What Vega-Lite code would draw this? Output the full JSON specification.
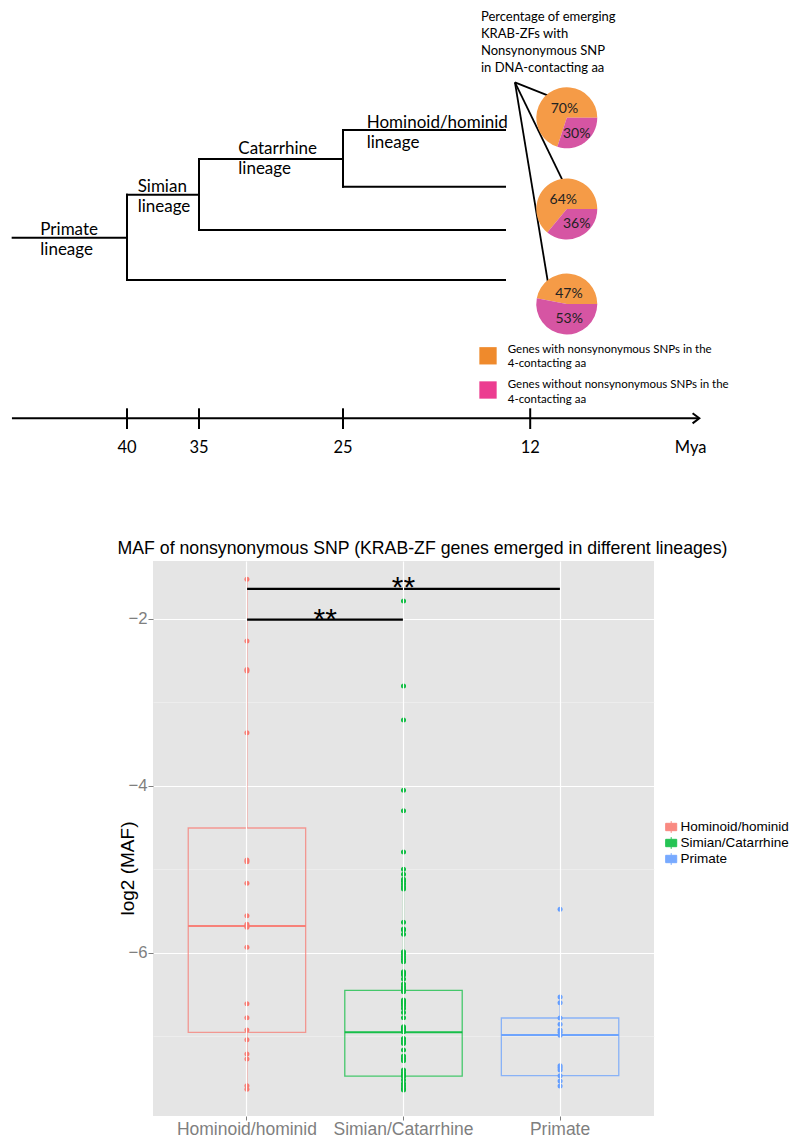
{
  "$schema": "https://vega.github.io/schema/vega-lite/v6.json",
  "width": 501,
  "height": 555,
  "autosize": {"type": "none"},
  "padding": {"left": 153, "top": 561, "right": 146, "bottom": 28},
  "background": "white",
  "config": {"view": {"fill": "#E5E5E5", "stroke": null}, "font": "Liberation Sans"},
  "datasets": {
    "points": [
      {"g":"Hominoid/hominid","v":-1.525},{"g":"Hominoid/hominid","v":-2.265},{"g":"Hominoid/hominid","v":-2.607},{"g":"Hominoid/hominid","v":-2.625},{"g":"Hominoid/hominid","v":-3.364},{"g":"Hominoid/hominid","v":-4.891},{"g":"Hominoid/hominid","v":-4.911},{"g":"Hominoid/hominid","v":-5.170},{"g":"Hominoid/hominid","v":-5.559},{"g":"Hominoid/hominid","v":-5.662},{"g":"Hominoid/hominid","v":-5.682},{"g":"Hominoid/hominid","v":-5.698},{"g":"Hominoid/hominid","v":-5.938},{"g":"Hominoid/hominid","v":-6.614},{"g":"Hominoid/hominid","v":-6.782},{"g":"Hominoid/hominid","v":-6.929},{"g":"Hominoid/hominid","v":-7.046},{"g":"Hominoid/hominid","v":-7.217},{"g":"Hominoid/hominid","v":-7.277},{"g":"Hominoid/hominid","v":-7.597},{"g":"Hominoid/hominid","v":-7.640},
      {"g":"Simian/Catarrhine","v":-1.785},{"g":"Simian/Catarrhine","v":-2.805},{"g":"Simian/Catarrhine","v":-3.212},{"g":"Simian/Catarrhine","v":-4.055},{"g":"Simian/Catarrhine","v":-4.299},{"g":"Simian/Catarrhine","v":-4.795},{"g":"Simian/Catarrhine","v":-5.003},{"g":"Simian/Catarrhine","v":-5.063},{"g":"Simian/Catarrhine","v":-5.123},{"g":"Simian/Catarrhine","v":-5.147},{"g":"Simian/Catarrhine","v":-5.179},{"g":"Simian/Catarrhine","v":-5.211},{"g":"Simian/Catarrhine","v":-5.239},{"g":"Simian/Catarrhine","v":-5.638},{"g":"Simian/Catarrhine","v":-5.718},{"g":"Simian/Catarrhine","v":-5.730},{"g":"Simian/Catarrhine","v":-5.782},{"g":"Simian/Catarrhine","v":-5.990},{"g":"Simian/Catarrhine","v":-6.018},{"g":"Simian/Catarrhine","v":-6.050},{"g":"Simian/Catarrhine","v":-6.082},{"g":"Simian/Catarrhine","v":-6.110},{"g":"Simian/Catarrhine","v":-6.230},{"g":"Simian/Catarrhine","v":-6.250},{"g":"Simian/Catarrhine","v":-6.270},{"g":"Simian/Catarrhine","v":-6.318},{"g":"Simian/Catarrhine","v":-6.378},{"g":"Simian/Catarrhine","v":-6.410},{"g":"Simian/Catarrhine","v":-6.438},{"g":"Simian/Catarrhine","v":-6.470},{"g":"Simian/Catarrhine","v":-6.570},{"g":"Simian/Catarrhine","v":-6.590},{"g":"Simian/Catarrhine","v":-6.610},{"g":"Simian/Catarrhine","v":-6.638},{"g":"Simian/Catarrhine","v":-6.670},{"g":"Simian/Catarrhine","v":-6.718},{"g":"Simian/Catarrhine","v":-6.782},{"g":"Simian/Catarrhine","v":-6.890},{"g":"Simian/Catarrhine","v":-6.910},{"g":"Simian/Catarrhine","v":-6.930},{"g":"Simian/Catarrhine","v":-6.950},{"g":"Simian/Catarrhine","v":-7.030},{"g":"Simian/Catarrhine","v":-7.062},{"g":"Simian/Catarrhine","v":-7.090},{"g":"Simian/Catarrhine","v":-7.170},{"g":"Simian/Catarrhine","v":-7.242},{"g":"Simian/Catarrhine","v":-7.270},{"g":"Simian/Catarrhine","v":-7.298},{"g":"Simian/Catarrhine","v":-7.409},{"g":"Simian/Catarrhine","v":-7.441},{"g":"Simian/Catarrhine","v":-7.469},{"g":"Simian/Catarrhine","v":-7.489},{"g":"Simian/Catarrhine","v":-7.529},{"g":"Simian/Catarrhine","v":-7.569},{"g":"Simian/Catarrhine","v":-7.601},{"g":"Simian/Catarrhine","v":-7.629},{"g":"Simian/Catarrhine","v":-7.649},
      {"g":"Primate","v":-5.482},{"g":"Primate","v":-6.534},{"g":"Primate","v":-6.602},{"g":"Primate","v":-6.785},{"g":"Primate","v":-6.861},{"g":"Primate","v":-6.929},{"g":"Primate","v":-6.957},{"g":"Primate","v":-6.993},{"g":"Primate","v":-7.357},{"g":"Primate","v":-7.381},{"g":"Primate","v":-7.409},{"g":"Primate","v":-7.477},{"g":"Primate","v":-7.541},{"g":"Primate","v":-7.601}
    ],
    "boxes": [
      {"g":"Hominoid/hominid","lower":-7.640,"q1":-6.957,"median":-5.682,"q3":-4.507,"upper":-1.525},
      {"g":"Simian/Catarrhine","lower":-7.649,"q1":-7.481,"median":-6.957,"q3":-6.453,"upper":-5.003},
      {"g":"Primate","lower":-7.601,"q1":-7.477,"median":-6.989,"q3":-6.785,"upper":-6.534}
    ],
    "sig": [
      {"from":"Hominoid/hominid","to":"Simian/Catarrhine","v":-2.008},
      {"from":"Hominoid/hominid","to":"Primate","v":-1.641}
    ],
    "starsUpper": [{"g":"Simian/Catarrhine","v":-1.734,"t":"**"}],
    "starsLower": [{"g":"Hominoid/hominid","v":-2.117,"t":"**"}],
    "tree": [
      {"x":47.94,"x2":40,"y":237.7,"y2":237.7},
      {"x":40,"x2":35,"y":194.7,"y2":194.7},
      {"x":35,"x2":25,"y":159,"y2":159},
      {"x":25,"x2":13.75,"y":130,"y2":130},
      {"x":25,"x2":13.75,"y":186.7,"y2":186.7},
      {"x":35,"x2":13.75,"y":230,"y2":230},
      {"x":40,"x2":13.75,"y":280,"y2":280},
      {"x":40,"x2":40,"y":194.7,"y2":280},
      {"x":35,"x2":35,"y":159,"y2":230},
      {"x":25,"x2":25,"y":130,"y2":186.7}
    ],
    "timeline": [
      {"x":47.99,"x2":0.3,"y":418.3,"y2":418.3},
      {"x":40,"x2":40,"y":408.3,"y2":429},
      {"x":35,"x2":35,"y":408.3,"y2":429},
      {"x":25,"x2":25,"y":408.3,"y2":429},
      {"x":12,"x2":12,"y":408.3,"y2":429}
    ],
    "arrow": [{"x":0.257,"y":418.3}],
    "timelabels": [
      {"t":"40","x":40,"y":453.3},
      {"t":"35","x":35,"y":453.3},
      {"t":"25","x":25,"y":453.3},
      {"t":"12","x":12,"y":453.3},
      {"t":"Mya","x":0.854,"y":453.3}
    ],
    "pointers": [
      {"x":13.06,"y":82.3,"x2":10.44,"y2":97.3},
      {"x":13.06,"y":82.3,"x2":9.65,"y2":183.3},
      {"x":13.06,"y":82.3,"x2":10.67,"y2":291}
    ],
    "pies": [
      {"pie":1,"x":9.46,"y":117.8,"cat":"Genes with nonsynonymous SNPs in the 4-contacting aa","pct":70},
      {"pie":1,"x":9.46,"y":117.8,"cat":"Genes without nonsynonymous SNPs in the 4-contacting aa","pct":30},
      {"pie":2,"x":9.46,"y":209,"cat":"Genes with nonsynonymous SNPs in the 4-contacting aa","pct":64},
      {"pie":2,"x":9.46,"y":209,"cat":"Genes without nonsynonymous SNPs in the 4-contacting aa","pct":36},
      {"pie":3,"x":9.46,"y":304,"cat":"Genes with nonsynonymous SNPs in the 4-contacting aa","pct":47},
      {"pie":3,"x":9.46,"y":304,"cat":"Genes without nonsynonymous SNPs in the 4-contacting aa","pct":53}
    ],
    "pielabels": [
      {"t":"70%","x":9.62,"y":113.3},
      {"t":"30%","x":8.77,"y":138.3},
      {"t":"64%","x":9.70,"y":204},
      {"t":"36%","x":8.77,"y":227.7},
      {"t":"47%","x":9.31,"y":298.3},
      {"t":"53%","x":9.29,"y":322.7}
    ],
    "lineages": [
      {"t":"Primate\nlineage","x":46.02,"y":235.3},
      {"t":"Simian\nlineage","x":39.26,"y":192},
      {"t":"Catarrhine\nlineage","x":32.27,"y":154.3},
      {"t":"Hominoid/hominid\nlineage","x":23.35,"y":127.7}
    ],
    "caption": [
      {"t":"Percentage of emerging\nKRAB-ZFs with\nNonsynonymous SNP\nin DNA-contacting aa","x":15.42,"y":20.7}
    ],
    "plottitle": [
      {"t":"MAF of nonsynonymous SNP (KRAB-ZF genes emerged in different lineages)","x":19.48,"y":554}
    ],
    "keys": [
      {"cat":"Genes with nonsynonymous SNPs in the 4-contacting aa","x":14.93,"y":355.8},
      {"cat":"Genes without nonsynonymous SNPs in the 4-contacting aa","x":14.93,"y":390}
    ],
    "keylabels": [
      {"t":"Genes with nonsynonymous SNPs in the\n4-contacting aa","x":13.56,"y":353.1},
      {"t":"Genes without nonsynonymous SNPs in the\n4-contacting aa","x":13.56,"y":388.4}
    ]
  },
  "layer": [
    {
      "layer": [
        {
          "data": {"name": "boxes"},
          "mark": {"type": "rect", "filled": false, "strokeWidth": 1.3, "strokeOpacity": 0.7},
          "encoding": {
            "x": {"field": "g", "type": "nominal", "title": null,
              "scale": {"type": "band", "domain": ["Hominoid/hominid", "Simian/Catarrhine", "Primate"], "paddingInner": 0.25, "paddingOuter": 0.225},
              "axis": {"bandPosition": 0.5, "domain": false, "grid": true, "gridColor": "white", "gridWidth": 1.2, "ticks": true, "tickColor": "#7F7F7F", "tickSize": 4, "tickWidth": 1, "labelColor": "#7F7F7F", "labelFontSize": 17.5, "labelFont": "Liberation Sans", "labelPadding": 0, "labelAngle": 0}},
            "y": {"field": "q1", "type": "quantitative", "title": "log2 (MAF)",
              "scale": {"domain": [-7.96, -1.306], "nice": false, "zero": false},
              "axis": {"values": [-7, -6, -5, -4, -3, -2], "domain": false, "grid": true,
                "gridColor": {"condition": {"test": "datum.value % 2 !== 0", "value": "#F2F2F2"}, "value": "white"},
                "gridWidth": {"condition": {"test": "datum.value % 2 !== 0", "value": 0.6}, "value": 1.2},
                "tickColor": "#7F7F7F",
                "tickOpacity": {"condition": {"test": "datum.value % 2 !== 0", "value": 0}, "value": 1},
                "tickSize": 5, "tickWidth": 1,
                "labelExpr": "datum.value % 2 === 0 ? '−' + abs(datum.value) : ''",
                "labelColor": "#7F7F7F", "labelFontSize": 16.7, "labelFont": "Liberation Sans", "labelPadding": 1,
                "titleFontSize": 19, "titleFontWeight": "normal", "titleColor": "black", "titleFont": "Liberation Sans", "titleX": -16, "titleY": 307}},
            "y2": {"field": "q3"},
            "stroke": {"field": "g", "type": "nominal",
              "scale": {"domain": ["Hominoid/hominid", "Simian/Catarrhine", "Primate"], "range": ["#F8766D", "#00BA38", "#619CFF"]},
              "legend": {"orient": "none", "legendX": 510.2, "legendY": 258, "title": null,
                "symbolType": "M-0.75,-0.5H0.75V0.5H-0.75Z M0,-0.8V-0.5 M0,0.5V0.8 M-0.75,0H0.75 M-0.12,-0.12H0.12V0.12H-0.12Z",
                "symbolSize": 216, "symbolStrokeWidth": 1, "symbolOpacity": 0.85, "symbolFillColor": "#F2F2F2",
                "labelFontSize": 13.5, "labelFont": "Liberation Sans", "labelColor": "black", "labelOffset": 1.4, "rowPadding": -0.5, "padding": 0,
                "encode": {"symbols": {"update": {"fill": {"value": "#F2F2F2"}, "fillOpacity": {"value": 1}}}}}}
          }
        },
        {
          "data": {"name": "boxes"},
          "mark": {"type": "rule", "strokeWidth": 1.3, "strokeOpacity": 0.7},
          "encoding": {
            "x": {"field": "g", "type": "nominal", "title": null, "scale": {"type": "band", "domain": ["Hominoid/hominid", "Simian/Catarrhine", "Primate"], "paddingInner": 0.25, "paddingOuter": 0.225}},
            "y": {"field": "lower", "type": "quantitative", "title": "log2 (MAF)", "scale": {"domain": [-7.96, -1.306], "nice": false, "zero": false}},
            "y2": {"field": "q1"},
            "stroke": {"field": "g", "type": "nominal", "scale": {"domain": ["Hominoid/hominid", "Simian/Catarrhine", "Primate"], "range": ["#F8766D", "#00BA38", "#619CFF"]}, "legend": null}
          }
        },
        {
          "data": {"name": "boxes"},
          "mark": {"type": "rule", "strokeWidth": 1.3, "strokeOpacity": 0.7},
          "encoding": {
            "x": {"field": "g", "type": "nominal", "title": null, "scale": {"type": "band", "domain": ["Hominoid/hominid", "Simian/Catarrhine", "Primate"], "paddingInner": 0.25, "paddingOuter": 0.225}},
            "y": {"field": "q3", "type": "quantitative", "title": "log2 (MAF)", "scale": {"domain": [-7.96, -1.306], "nice": false, "zero": false}},
            "y2": {"field": "upper"},
            "stroke": {"field": "g", "type": "nominal", "scale": {"domain": ["Hominoid/hominid", "Simian/Catarrhine", "Primate"], "range": ["#F8766D", "#00BA38", "#619CFF"]}, "legend": null}
          }
        },
        {
          "data": {"name": "boxes"},
          "mark": {"type": "rect", "filled": false, "strokeWidth": 2, "strokeOpacity": 0.9},
          "encoding": {
            "x": {"field": "g", "type": "nominal", "title": null, "scale": {"type": "band", "domain": ["Hominoid/hominid", "Simian/Catarrhine", "Primate"], "paddingInner": 0.25, "paddingOuter": 0.225}},
            "y": {"field": "median", "type": "quantitative", "title": "log2 (MAF)", "scale": {"domain": [-7.96, -1.306], "nice": false, "zero": false}},
            "y2": {"field": "median"},
            "stroke": {"field": "g", "type": "nominal", "scale": {"domain": ["Hominoid/hominid", "Simian/Catarrhine", "Primate"], "range": ["#F8766D", "#00BA38", "#619CFF"]}, "legend": null}
          }
        },
        {
          "data": {"name": "points"},
          "mark": {"type": "circle", "size": 25, "opacity": 1},
          "encoding": {
            "x": {"field": "g", "type": "nominal", "title": null, "scale": {"type": "band", "domain": ["Hominoid/hominid", "Simian/Catarrhine", "Primate"], "paddingInner": 0.25, "paddingOuter": 0.225}},
            "y": {"field": "v", "type": "quantitative", "title": "log2 (MAF)", "scale": {"domain": [-7.96, -1.306], "nice": false, "zero": false}},
            "color": {"field": "g", "type": "nominal", "scale": {"domain": ["Hominoid/hominid", "Simian/Catarrhine", "Primate"], "range": ["#F8766D", "#00BA38", "#619CFF"]}, "legend": null}
          }
        },
        {
          "data": {"name": "sig"},
          "mark": {"type": "rule", "strokeWidth": 2.2, "color": "black"},
          "encoding": {
            "x": {"field": "from", "type": "nominal", "title": null, "scale": {"type": "band", "domain": ["Hominoid/hominid", "Simian/Catarrhine", "Primate"], "paddingInner": 0.25, "paddingOuter": 0.225}},
            "x2": {"field": "to"},
            "y": {"field": "v", "type": "quantitative", "title": "log2 (MAF)", "scale": {"domain": [-7.96, -1.306], "nice": false, "zero": false}}
          }
        },
        {
          "data": {"name": "starsUpper"},
          "mark": {"type": "text", "fontSize": 30, "font": "Liberation Sans", "color": "black", "align": "center", "baseline": "alphabetic"},
          "encoding": {
            "x": {"field": "g", "type": "nominal", "title": null, "scale": {"type": "band", "domain": ["Hominoid/hominid", "Simian/Catarrhine", "Primate"], "paddingInner": 0.25, "paddingOuter": 0.225}},
            "y": {"field": "v", "type": "quantitative", "title": "log2 (MAF)", "scale": {"domain": [-7.96, -1.306], "nice": false, "zero": false}},
            "text": {"field": "t"}
          }
        },
        {
          "data": {"name": "starsLower"},
          "mark": {"type": "text", "fontSize": 30, "font": "Liberation Sans", "color": "black", "align": "center", "baseline": "alphabetic", "dx": 78.3},
          "encoding": {
            "x": {"field": "g", "type": "nominal", "title": null, "scale": {"type": "band", "domain": ["Hominoid/hominid", "Simian/Catarrhine", "Primate"], "paddingInner": 0.25, "paddingOuter": 0.225}},
            "y": {"field": "v", "type": "quantitative", "title": "log2 (MAF)", "scale": {"domain": [-7.96, -1.306], "nice": false, "zero": false}},
            "text": {"field": "t"}
          }
        }
      ]
    },
    {
      "layer": [
        {
          "data": {"name": "tree"},
          "mark": {"type": "rule", "color": "black", "strokeWidth": 2, "strokeCap": "square"},
          "encoding": {
            "x": {"field": "x", "type": "quantitative", "scale": {"domain": [38.1944, 3.4028], "nice": false, "zero": false}, "axis": null},
            "x2": {"field": "x2"},
            "y": {"field": "y", "type": "quantitative", "scale": {"domain": [561, 1116], "reverse": true, "nice": false, "zero": false}, "axis": null},
            "y2": {"field": "y2"}
          }
        },
        {
          "data": {"name": "timeline"},
          "mark": {"type": "rule", "color": "black", "strokeWidth": 2},
          "encoding": {
            "x": {"field": "x", "type": "quantitative", "scale": {"domain": [38.1944, 3.4028], "nice": false, "zero": false}, "axis": null},
            "x2": {"field": "x2"},
            "y": {"field": "y", "type": "quantitative", "scale": {"domain": [561, 1116], "reverse": true, "nice": false, "zero": false}, "axis": null},
            "y2": {"field": "y2"}
          }
        },
        {
          "data": {"name": "arrow"},
          "mark": {"type": "point", "shape": "M-1,-0.75L0,0L-1,0.75", "size": 180, "filled": false, "color": "black", "strokeWidth": 2, "opacity": 1},
          "encoding": {
            "x": {"field": "x", "type": "quantitative", "scale": {"domain": [38.1944, 3.4028], "nice": false, "zero": false}, "axis": null},
            "y": {"field": "y", "type": "quantitative", "scale": {"domain": [561, 1116], "reverse": true, "nice": false, "zero": false}, "axis": null}
          }
        },
        {
          "data": {"name": "pointers"},
          "mark": {"type": "rule", "color": "black", "strokeWidth": 1.8},
          "encoding": {
            "x": {"field": "x", "type": "quantitative", "scale": {"domain": [38.1944, 3.4028], "nice": false, "zero": false}, "axis": null},
            "x2": {"field": "x2"},
            "y": {"field": "y", "type": "quantitative", "scale": {"domain": [561, 1116], "reverse": true, "nice": false, "zero": false}, "axis": null},
            "y2": {"field": "y2"}
          }
        },
        {
          "data": {"name": "pies"},
          "transform": [{"stack": "pct", "groupby": ["pie"], "sort": [{"field": "cat", "order": "descending"}], "as": ["t0", "t1"]}],
          "mark": {"type": "arc", "outerRadius": 30.5},
          "encoding": {
            "x": {"field": "x", "type": "quantitative", "scale": {"domain": [38.1944, 3.4028], "nice": false, "zero": false}, "axis": null},
            "y": {"field": "y", "type": "quantitative", "scale": {"domain": [561, 1116], "reverse": true, "nice": false, "zero": false}, "axis": null},
            "theta": {"field": "t0", "type": "quantitative", "stack": null, "scale": {"domain": [0, 100], "range": [1.5708, 7.854]}},
            "theta2": {"field": "t1"},
            "color": {"field": "cat", "type": "nominal", "scale": {"domain": ["Genes with nonsynonymous SNPs in the 4-contacting aa", "Genes without nonsynonymous SNPs in the 4-contacting aa"], "range": ["#F59B47", "#D655A3"]}, "legend": null}
          }
        },
        {
          "data": {"name": "pielabels"},
          "mark": {"type": "text", "font": "Lato", "fontSize": 14, "color": "#222222", "align": "center", "baseline": "alphabetic"},
          "encoding": {
            "x": {"field": "x", "type": "quantitative", "scale": {"domain": [38.1944, 3.4028], "nice": false, "zero": false}, "axis": null},
            "y": {"field": "y", "type": "quantitative", "scale": {"domain": [561, 1116], "reverse": true, "nice": false, "zero": false}, "axis": null},
            "text": {"field": "t"}
          }
        },
        {
          "data": {"name": "lineages"},
          "mark": {"type": "text", "font": "Lato", "fontSize": 17, "color": "black", "align": "left", "baseline": "alphabetic", "lineBreak": "\n", "lineHeight": 20},
          "encoding": {
            "x": {"field": "x", "type": "quantitative", "scale": {"domain": [38.1944, 3.4028], "nice": false, "zero": false}, "axis": null},
            "y": {"field": "y", "type": "quantitative", "scale": {"domain": [561, 1116], "reverse": true, "nice": false, "zero": false}, "axis": null},
            "text": {"field": "t"}
          }
        },
        {
          "data": {"name": "caption"},
          "mark": {"type": "text", "font": "Lato", "fontSize": 13, "color": "black", "align": "left", "baseline": "alphabetic", "lineBreak": "\n", "lineHeight": 17},
          "encoding": {
            "x": {"field": "x", "type": "quantitative", "scale": {"domain": [38.1944, 3.4028], "nice": false, "zero": false}, "axis": null},
            "y": {"field": "y", "type": "quantitative", "scale": {"domain": [561, 1116], "reverse": true, "nice": false, "zero": false}, "axis": null},
            "text": {"field": "t"}
          }
        },
        {
          "data": {"name": "plottitle"},
          "mark": {"type": "text", "font": "Liberation Sans", "fontSize": 17.7, "color": "black", "align": "center", "baseline": "alphabetic"},
          "encoding": {
            "x": {"field": "x", "type": "quantitative", "scale": {"domain": [38.1944, 3.4028], "nice": false, "zero": false}, "axis": null},
            "y": {"field": "y", "type": "quantitative", "scale": {"domain": [561, 1116], "reverse": true, "nice": false, "zero": false}, "axis": null},
            "text": {"field": "t"}
          }
        },
        {
          "data": {"name": "keys"},
          "mark": {"type": "point", "shape": "square", "size": 300, "filled": true, "opacity": 1},
          "encoding": {
            "x": {"field": "x", "type": "quantitative", "scale": {"domain": [38.1944, 3.4028], "nice": false, "zero": false}, "axis": null},
            "y": {"field": "y", "type": "quantitative", "scale": {"domain": [561, 1116], "reverse": true, "nice": false, "zero": false}, "axis": null},
            "fill": {"field": "cat", "type": "nominal", "scale": {"domain": ["Genes with nonsynonymous SNPs in the 4-contacting aa", "Genes without nonsynonymous SNPs in the 4-contacting aa"], "range": ["#EF8A2C", "#EC3C90"]}, "legend": null}
          }
        },
        {
          "data": {"name": "keylabels"},
          "mark": {"type": "text", "font": "Lato", "fontSize": 11.5, "color": "black", "align": "left", "baseline": "alphabetic", "lineBreak": "\n", "lineHeight": 14.2},
          "encoding": {
            "x": {"field": "x", "type": "quantitative", "scale": {"domain": [38.1944, 3.4028], "nice": false, "zero": false}, "axis": null},
            "y": {"field": "y", "type": "quantitative", "scale": {"domain": [561, 1116], "reverse": true, "nice": false, "zero": false}, "axis": null},
            "text": {"field": "t"}
          }
        },
        {
          "data": {"name": "timelabels"},
          "mark": {"type": "text", "font": "Lato", "fontSize": 16.5, "color": "black", "align": "center", "baseline": "alphabetic"},
          "encoding": {
            "x": {"field": "x", "type": "quantitative", "scale": {"domain": [38.1944, 3.4028], "nice": false, "zero": false}, "axis": null},
            "y": {"field": "y", "type": "quantitative", "scale": {"domain": [561, 1116], "reverse": true, "nice": false, "zero": false}, "axis": null},
            "text": {"field": "t"}
          }
        }
      ]
    }
  ],
  "resolve": {
    "scale": {"x": "independent", "y": "independent", "color": "independent", "stroke": "independent", "fill": "independent"},
    "axis": {"x": "independent", "y": "independent"},
    "legend": {"color": "independent", "stroke": "independent", "fill": "independent"}
  }
}
